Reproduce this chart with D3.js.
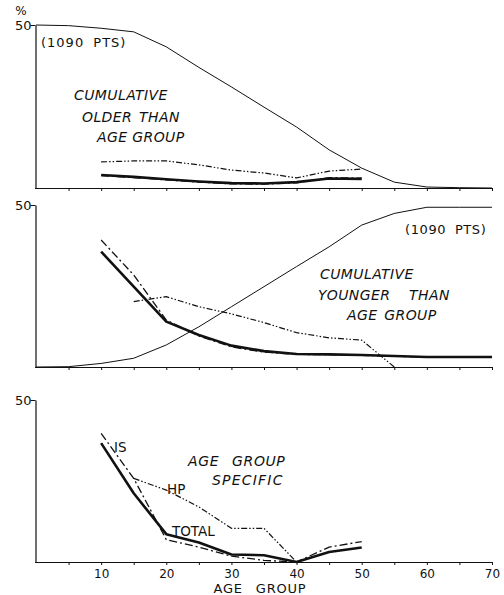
<!DOCTYPE html>
<html><head><meta charset="utf-8">
<script src="https://cdn.jsdelivr.net/npm/d3@7"></script>
<style>body{margin:0;background:#fff}svg{display:block}text{font-family:"DejaVu Sans",sans-serif;fill:#111}</style>
</head><body><svg id="c" width="504" height="595"></svg>
<script>
// ---- data ----
const ages = [0,5,10,15,20,25,30,35,40,45,50,55,60,65,70];
const ages10to50 = [10,15,20,25,30,35,40,45,50];
const ages10to70 = [10,15,20,25,30,35,40,45,50,55,60,65,70];
const ages15to55 = [15,20,25,30,35,40,45,50,55];
const ages15to40 = [15,20,25,30,35,40];
const xTickValues = [5,10,15,20,25,30,35,40,45,50,55,60,65,70];
const xTickLabels = [10,20,30,40,50,60,70];

// Panel 1: cumulative older than age group
const olderAll   = [50,49.8,49.0,47.9,43.3,37.0,31.0,24.8,18.7,11.7,6.1,1.8,0.3,0.1,0];
const olderHP    = [8.0,8.3,8.3,7.1,5.5,4.6,3.1,5.2,5.8];
const olderTotal = [4.0,3.4,2.7,2.0,1.5,1.4,1.8,2.9,2.8];
const olderIS    = [3.8,3.2,2.5,1.8,1.3,1.2,1.6,3.2,3.0];
// Panel 2: cumulative younger than age group
const youngerAll   = [0,0.1,1.1,2.7,6.8,12.4,18.6,24.8,31.0,37.1,43.8,47.4,49.3,49.3,49.3];
const youngerTotal = [35.6,24.8,14.0,9.9,6.6,4.9,4.0,3.9,3.7,3.4,3.1,3.1,3.1];
const youngerIS    = [39.2,28.4,14.5,9.6,6.2,4.6,3.9,3.8,3.6,3.3,3.1,3.1,3.1];
const youngerHP    = [20.2,21.7,18.6,16.4,13.7,10.6,9.0,8.3,0];
// Panel 3: age group specific
const specTotal = [36.7,21.2,8.6,6.0,2.3,2.1,0,3.1,4.5];
const specIS    = [39.7,25.8,6.9,4.6,1.8,0.5,0,4.6,6.3];
const specHP    = [25.8,22.2,17.0,10.4,10.4,0];

const svg = d3.select("#c");
const x = d3.scaleLinear().domain([0,70]).range([36,492]);

const panels = [
  {base:188, top:25},
  {base:367, top:205},
  {base:562, top:400}
];
const ys = panels.map(p => d3.scaleLinear().domain([0,50]).range([p.base,p.top]));

const styles = {
  thin:{w:1, dash:null},
  thick:{w:2.6, dash:null},
  is:{w:1.3, dash:"8,3,2,3"},
  hp:{w:1.2, dash:"6,2,1.5,2,1.5,2"}
};

function drawLine(pi, xs, vs, st){
  const y = ys[pi];
  const line = d3.line().x(d=>x(d[0])).y(d=>y(d[1]));
  svg.append("path").attr("d", line(xs.map((a,i)=>[a,vs[i]])))
    .attr("fill","none").attr("stroke","#111")
    .attr("stroke-width", styles[st].w)
    .attr("stroke-dasharray", styles[st].dash)
    .attr("stroke-linejoin","round");
}

panels.forEach((p,i)=>{
  const g = svg.append("g").attr("transform",`translate(0,${p.base})`);
  const ax = d3.axisBottom(x).tickValues(xTickValues).tickSize(3).tickSizeOuter(0)
    .tickFormat(d => (i===2 && xTickLabels.includes(d)) ? d : "");
  g.call(ax);
  g.select(".domain").attr("stroke","#111").attr("stroke-width",1.2).attr("d",`M35,0.5H492`);
  g.selectAll(".tick line").attr("stroke","#111");
  g.selectAll(".tick text").attr("font-size",12).attr("y",6).attr("dy","10").style("fill","#111");
  // y axis
  const ya = d3.axisLeft(ys[i]).tickValues([50]).tickSize(5).tickSizeOuter(0).tickFormat(d=>d);
  const gy = svg.append("g").attr("transform","translate(35.5,0)").call(ya);
  gy.select(".domain").attr("stroke","#111").attr("stroke-width",1.2);
  gy.selectAll("line").attr("stroke","#111");
  gy.selectAll("text").attr("font-size",13).attr("x",-4).attr("dy","0.35em").style("fill","#111");
});
svg.append("text").attr("x",21).attr("y",15).attr("text-anchor","middle").attr("font-size",12).text("%");

// lines panel 1
drawLine(0, ages, olderAll, "thin");
drawLine(0, ages10to50, olderHP, "hp");
drawLine(0, ages10to50, olderIS, "is");
drawLine(0, ages10to50, olderTotal, "thick");
// panel 2
drawLine(1, ages, youngerAll, "thin");
drawLine(1, ages15to55, youngerHP, "hp");
drawLine(1, ages10to70, youngerIS, "is");
drawLine(1, ages10to70, youngerTotal, "thick");
// panel 3
drawLine(2, ages15to40, specHP, "hp");
drawLine(2, ages10to50, specIS, "is");
drawLine(2, ages10to50, specTotal, "thick");

// annotations
function txt(xp, yp, s, size, italic, anchor, ls, ws){
  svg.append("text").attr("x",xp).attr("y",yp).attr("font-size",size)
    .attr("font-style", italic?"italic":"normal").attr("text-anchor",anchor||"start")
    .style("letter-spacing", (ls||0)+"px").style("word-spacing",(ws||0)+"px").text(s);
}
txt(41, 47, "(1090 PTS)", 13, false, "start", 1, 4);
txt(74, 100, "CUMULATIVE", 14, true, "start", 0.4);
txt(82, 122, "OLDER THAN", 14, true, "start", 0.4, 2);
txt(97, 142, "AGE GROUP", 14, true, "start", 0.4, 0);
txt(405, 234, "(1090 PTS)", 13, false, "start", 0.6, 4);
txt(320, 279, "CUMULATIVE", 14, true, "start", 0.4);
txt(318, 300, "YOUNGER THAN", 14, true, "start", 0.4, 14);
txt(347, 320, "AGE GROUP", 14, true, "start", 0.4, 2);
txt(114, 452, "IS", 13.5);
txt(167, 494, "HP", 13.5);
txt(172, 536, "TOTAL", 13.5);
txt(188, 466, "AGE GROUP", 14, true, "start", 0.6, 8);
txt(212, 485, "SPECIFIC", 14, true, "start", 1.2);
txt(260, 593, "AGE GROUP", 13, false, "middle", 0.8, 8);
</script></body></html>
